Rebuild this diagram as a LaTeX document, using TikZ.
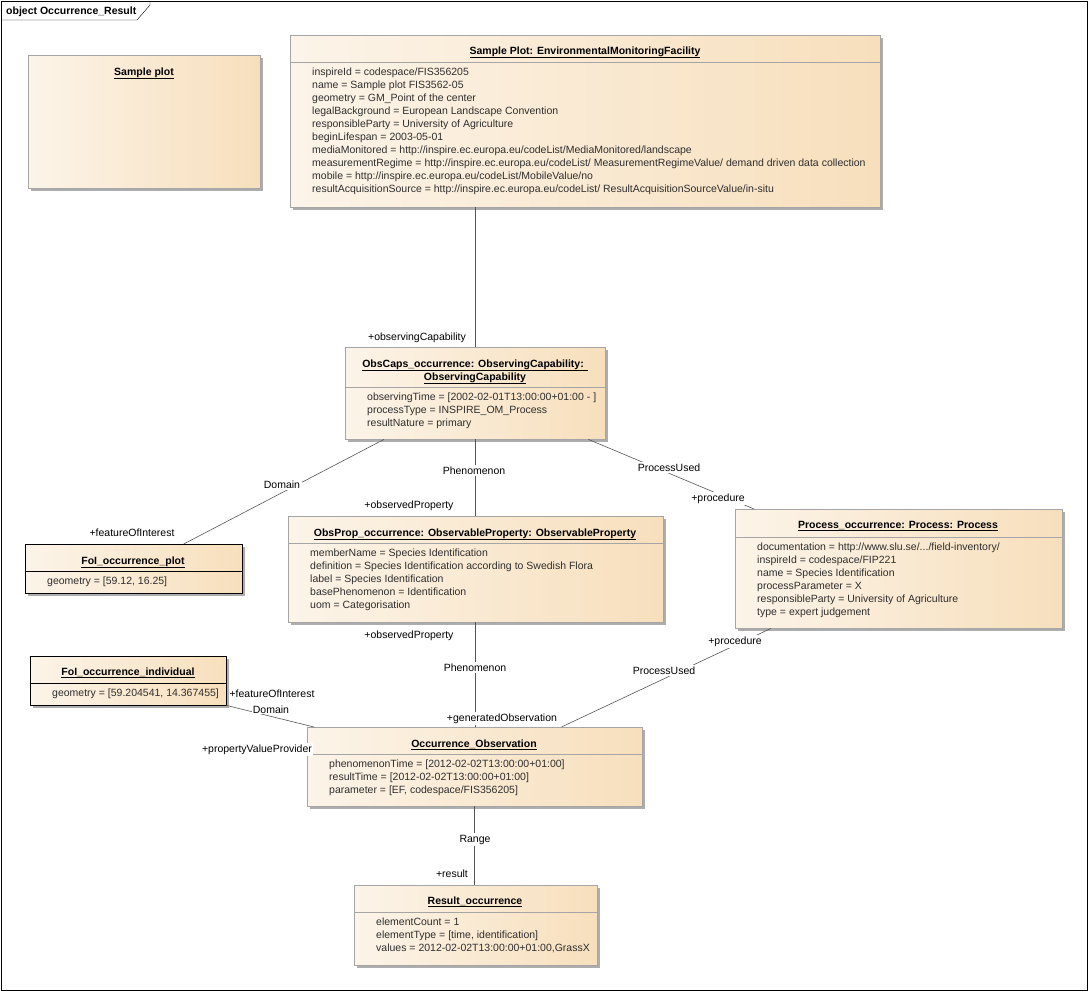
\documentclass[tikz,border=0pt]{standalone}
\usepackage{fontspec}
\setmainfont{Liberation Sans}
\usetikzlibrary{positioning, shadows}

\definecolor{objleft}{RGB}{252,244,233}
\definecolor{objright}{RGB}{247,223,188}
\definecolor{objborder}{RGB}{165,165,165}
\definecolor{linkgray}{RGB}{85,85,85}

\begin{document}
\begin{tikzpicture}[x=1pt, y=-1pt,
  font=\fontsize{10.5}{13}\selectfont,
  obj/.style={rectangle, draw=objborder, left color=objleft, right color=objright,
              anchor=north west, inner sep=0pt,
              drop shadow={shadow xshift=3pt, shadow yshift=-3pt, fill=black!32, opacity=1}},
  fobj/.style={obj, draw=black},
  title/.style={anchor=base, inner sep=0pt, font=\fontsize{10.5}{13}\selectfont\bfseries},
  attrs/.style={anchor=north west, inner sep=0pt, align=left, text=black!82},
  sep/.style={draw=objborder},
  link/.style={draw=linkgray, line width=0.6pt},
  lbl/.style={anchor=base, inner sep=1.5pt, fill=white}
]
\useasboundingbox (0,0) rectangle (1088,991);

% frame
\draw (1,1) rectangle (1087,990);
\draw (1,20) -- (137,20) -- (150,5) -- (150,1);
\node (frame) [anchor=base west, inner sep=0pt, font=\fontsize{10.5}{13}\selectfont\bfseries] at (6,14) {object Occurrence\_Result};

% objects
\node (plot) [obj, minimum width=232, minimum height=133] at (28,55) {};
\node (plotT) [title] at (144,75) {\underline{Sample plot}};

\node (emf) [obj, minimum width=590, minimum height=172] at (290,35) {};
\node (emfT) [title] at (585,54) {\underline{Sample Plot: EnvironmentalMonitoringFacility}};
\draw [sep] (emf.west |- 0,62) -- (emf.east |- 0,62);
\node (emfA) [attrs] at (312,67.5) {inspireId = codespace/FIS356205\\
  name = Sample plot FIS3562-05\\
  geometry = GM\_Point of the center\\
  legalBackground = European Landscape Convention\\
  responsibleParty = University of Agriculture\\
  beginLifespan = 2003-05-01\\
  mediaMonitored = http://inspire.ec.europa.eu/codeList/MediaMonitored/landscape\\
  measurementRegime = http://inspire.ec.europa.eu/codeList/ MeasurementRegimeValue/ demand driven data collection\\
  mobile = http://inspire.ec.europa.eu/codeList/MobileValue/no\\
  resultAcquisitionSource = http://inspire.ec.europa.eu/codeList/ ResultAcquisitionSourceValue/in-situ};

\node (caps) [obj, minimum width=260, minimum height=92] at (345,347) {};
\node (capsT) [title] at (475,367) {\underline{ObsCaps\_occurrence: ObservingCapability: }};
\node (capsU) [title] at (475,380) {\underline{ObservingCapability}};
\draw [sep] (caps.west |- 0,387) -- (caps.east |- 0,387);
\node (capsA) [attrs] at (367,392.5) {observingTime = [2002-02-01T13:00:00+01:00 - ]\\
  processType = INSPIRE\_OM\_Process\\
  resultNature = primary};

\node (folplot) [fobj, minimum width=217, minimum height=49] at (25,544) {};
\node (folplotT) [title] at (133,564) {\underline{FoI\_occurrence\_plot}};
\draw [draw=black] (folplot.west |- 0,571) -- (folplot.east |- 0,571);
\node (folplotA) [attrs] at (47,576.5) {geometry = [59.12, 16.25]};

\node (prop) [obj, minimum width=375, minimum height=106] at (288,516) {};
\node (propT) [title] at (475,536) {\underline{ObsProp\_occurrence: ObservableProperty: ObservableProperty}};
\draw [sep] (prop.west |- 0,543) -- (prop.east |- 0,543);
\node (propA) [attrs] at (310,548.5) {memberName = Species Identification\\
  definition = Species Identification according to Swedish Flora\\
  label = Species Identification\\
  basePhenomenon = Identification\\
  uom = Categorisation};

\node (proc) [obj, minimum width=327, minimum height=119] at (735,509) {};
\node (procT) [title] at (898,528) {\underline{Process\_occurrence: Process: Process}};
\draw [sep] (proc.west |- 0,537) -- (proc.east |- 0,537);
\node (procA) [attrs] at (757,542.5) {documentation = http://www.slu.se/.../field-inventory/\\
  inspireId = codespace/FIP221\\
  name = Species Identification\\
  processParameter = X\\
  responsibleParty = University of Agriculture\\
  type = expert judgement};

\node (folind) [fobj, minimum width=196, minimum height=49] at (30,656) {};
\node (folindT) [title] at (128,675) {\underline{FoI\_occurrence\_individual}};
\draw [draw=black] (folind.west |- 0,683) -- (folind.east |- 0,683);
\node (folindA) [attrs] at (52,688.5) {geometry = [59.204541, 14.367455]};

\node (occ) [obj, minimum width=335, minimum height=79] at (307,727) {};
\node (occT) [title] at (474,747) {\underline{Occurrence\_Observation}};
\draw [sep] (occ.west |- 0,754) -- (occ.east |- 0,754);
\node (occA) [attrs] at (329,759.5) {phenomenonTime = [2012-02-02T13:00:00+01:00]\\
  resultTime = [2012-02-02T13:00:00+01:00]\\
  parameter = [EF, codespace/FIS356205]};

\node (res) [obj, minimum width=243, minimum height=80] at (354,885) {};
\node (resT) [title] at (475,904) {\underline{Result\_occurrence}};
\draw [sep] (res.west |- 0,912) -- (res.east |- 0,912);
\node (resA) [attrs] at (376,917.5) {elementCount = 1\\
  elementType = [time, identification]\\
  values = 2012-02-02T13:00:00+01:00,GrassX};

% links
\draw [link] (caps.north) -- (caps.north |- emf.south);
\draw [link] ([xshift=39]caps.south west) -- ([xshift=50]folplot.north);
\draw [link] (caps.south) -- (caps.south |- prop.north);
\draw [link] ([xshift=-17]caps.south east) -- ([xshift=19]proc.north west);
\draw [link] (prop.south) -- (prop.south |- occ.north);
\draw [link] ([xshift=36]proc.south west) -- ([xshift=-81]occ.north east);
\draw [link] (folind.south east) -- ([xshift=7]occ.north west);
\draw [link] (occ.south) -- (occ.south |- res.north);

% link labels
\node (l1)  [lbl] at (417,340) {+observingCapability};
\node (l2)  [lbl] at (282,488) {Domain};
\node (l3)  [lbl] at (132,536) {+featureOfInterest};
\node (l4)  [lbl] at (474,474) {Phenomenon};
\node (l5)  [lbl] at (409,508) {+observedProperty};
\node (l6)  [lbl] at (669,471) {ProcessUsed};
\node (l7)  [lbl] at (718,501) {+procedure};
\node (l8)  [lbl] at (409,638) {+observedProperty};
\node (l9)  [lbl] at (475,671) {Phenomenon};
\node (l10) [lbl] at (502,721) {+generatedObservation};
\node (l11) [lbl] at (735,644) {+procedure};
\node (l12) [lbl] at (664,674) {ProcessUsed};
\node (l13) [lbl, fill=none] at (272,697) {+featureOfInterest};
\node (l14) [lbl, inner sep=0.5pt] at (271,713) {Domain};
\node (l15) [lbl] at (257,752) {+propertyValueProvider};
\node (l16) [lbl] at (475,842) {Range};
\node (l17) [lbl, fill=none] at (452,877) {+result};
\end{tikzpicture}
\end{document}
